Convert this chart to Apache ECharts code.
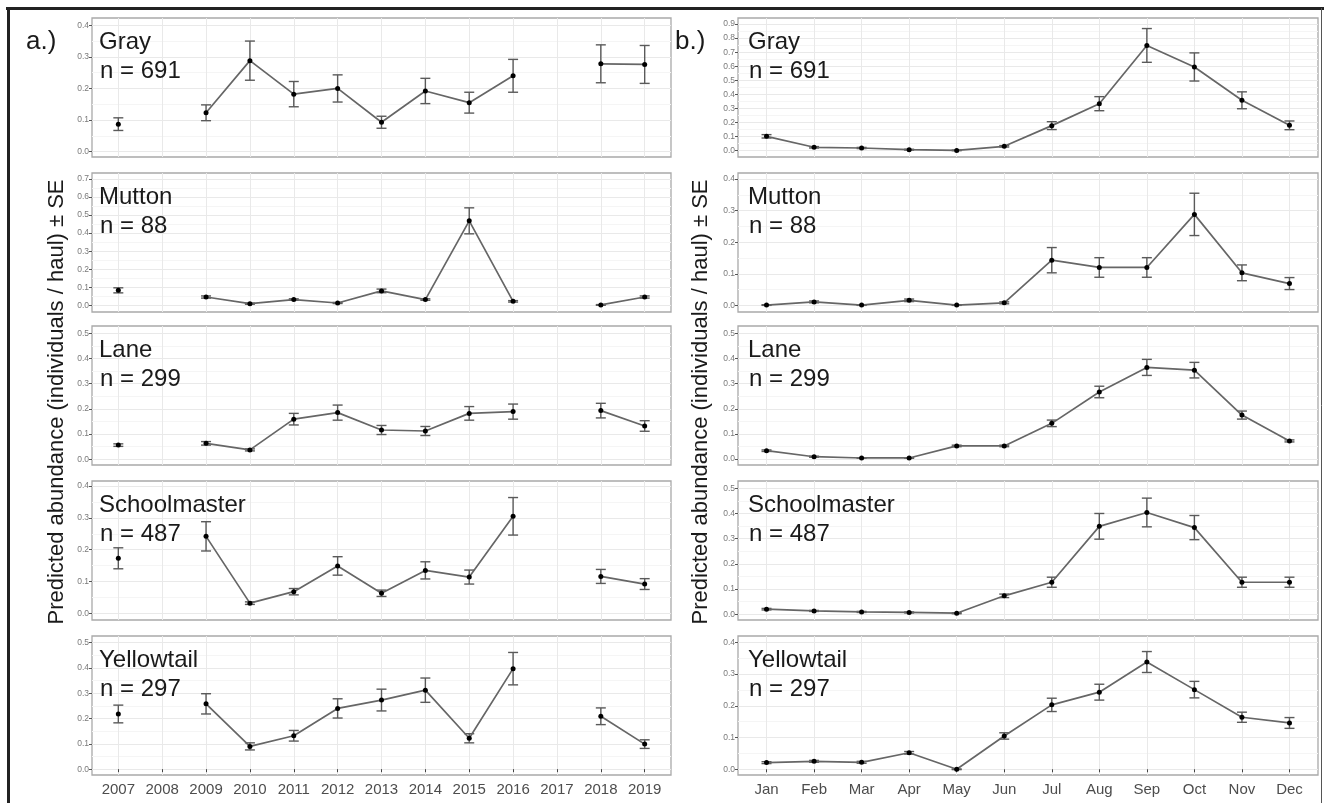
<!DOCTYPE html>
<html>
<head>
<meta charset="utf-8">
<script src="https://cdn.jsdelivr.net/npm/echarts@6/dist/echarts.min.js"></script>
<style>
html,body{margin:0;padding:0;background:#fff;}
#chart{width:1324px;height:803px;}
</style>
</head>
<body>
<div id="chart"></div>
<script>
// ---------------- DATA ----------------
const years = [2007, 2008, 2009, 2010, 2011, 2012, 2013, 2014, 2015, 2016, 2017, 2018, 2019];
const months = [1, 2, 3, 4, 5, 6, 7, 8, 9, 10, 11, 12];
const monthNames = ['Jan', 'Feb', 'Mar', 'Apr', 'May', 'Jun', 'Jul', 'Aug', 'Sep', 'Oct', 'Nov', 'Dec'];
const species = ['Gray', 'Mutton', 'Lane', 'Schoolmaster', 'Yellowtail'];
const counts = [691, 88, 299, 487, 297];
const panelLetters = ['a.)', 'b.)'];
const yTitle = 'Predicted abundance (individuals / haul) \u00b1 SE';

// yearly (null = no data)
const grayYearMean   = [0.087, null, 0.123, 0.288, 0.182, 0.200, 0.093, 0.192, 0.155, 0.240, null, 0.278, 0.276];
const grayYearSE     = [0.020, null, 0.025, 0.062, 0.040, 0.043, 0.019, 0.040, 0.033, 0.052, null, 0.060, 0.060];
const muttonYearMean = [0.083, null, 0.046, 0.009, 0.032, 0.013, 0.080, 0.032, 0.468, 0.022, null, 0.002, 0.046];
const muttonYearSE   = [0.014, null, 0.006, 0.003, 0.004, 0.003, 0.010, 0.004, 0.072, 0.004, null, 0.002, 0.006];
const laneYearMean   = [0.056, null, 0.063, 0.037, 0.159, 0.185, 0.116, 0.112, 0.182, 0.189, null, 0.193, 0.132];
const laneYearSE     = [0.005, null, 0.007, 0.004, 0.023, 0.030, 0.018, 0.018, 0.027, 0.030, null, 0.029, 0.021];
const schoolYearMean = [0.173, null, 0.242, 0.032, 0.068, 0.149, 0.063, 0.135, 0.114, 0.305, null, 0.116, 0.092];
const schoolYearSE   = [0.033, null, 0.046, 0.004, 0.010, 0.029, 0.010, 0.027, 0.022, 0.059, null, 0.022, 0.017];
const yellowYearMean = [0.218, null, 0.258, 0.090, 0.132, 0.240, 0.273, 0.312, 0.122, 0.397, null, 0.209, 0.099];
const yellowYearSE   = [0.035, null, 0.040, 0.014, 0.021, 0.038, 0.043, 0.048, 0.018, 0.064, null, 0.033, 0.017];

// monthly
const grayMonthMean   = [0.102, 0.024, 0.019, 0.007, 0.002, 0.031, 0.178, 0.334, 0.748, 0.595, 0.358, 0.180];
const grayMonthSE     = [0.012, 0.005, 0.004, 0.003, 0.002, 0.005, 0.028, 0.050, 0.120, 0.100, 0.060, 0.031];
const muttonMonthMean = [0.001, 0.011, 0.001, 0.016, 0.001, 0.008, 0.143, 0.120, 0.120, 0.288, 0.103, 0.069];
const muttonMonthSE   = [0.001, 0.003, 0.001, 0.004, 0.001, 0.003, 0.040, 0.031, 0.031, 0.067, 0.025, 0.019];
const laneMonthMean   = [0.033, 0.009, 0.004, 0.004, 0.052, 0.052, 0.142, 0.267, 0.365, 0.354, 0.175, 0.072];
const laneMonthSE     = [0.003, 0.002, 0.001, 0.001, 0.003, 0.003, 0.013, 0.023, 0.032, 0.031, 0.016, 0.004];
const schoolMonthMean = [0.020, 0.013, 0.009, 0.007, 0.004, 0.073, 0.127, 0.349, 0.404, 0.344, 0.127, 0.127];
const schoolMonthSE   = [0.003, 0.002, 0.002, 0.002, 0.002, 0.007, 0.020, 0.051, 0.057, 0.048, 0.020, 0.020];
const yellowMonthMean = [0.021, 0.025, 0.022, 0.052, 0.000, 0.105, 0.203, 0.243, 0.338, 0.251, 0.164, 0.146];
const yellowMonthSE   = [0.003, 0.003, 0.003, 0.004, 0.001, 0.010, 0.021, 0.025, 0.033, 0.026, 0.016, 0.017];

// tick label tops per panel (ticks every 0.1 from 0)
const leftTickMax  = [0.4, 0.7, 0.5, 0.4, 0.5];
const rightTickMax = [0.9, 0.4, 0.5, 0.5, 0.4];

// ---------------- LAYOUT ----------------
const leftRange  = [[-0.017, 0.423], [-0.037, 0.733], [-0.023, 0.529], [-0.021, 0.416], [-0.023, 0.526]];
const rightRange = [[-0.045, 0.943], [-0.021, 0.419], [-0.024, 0.530], [-0.023, 0.529], [-0.018, 0.420]];
const panelTops = [18, 173, 326, 481, 636];
const panelH = 139;
const colX = [{ left: 92, width: 579 }, { left: 738, width: 580 }];

const yearData = [
  [grayYearMean, grayYearSE], [muttonYearMean, muttonYearSE], [laneYearMean, laneYearSE],
  [schoolYearMean, schoolYearSE], [yellowYearMean, yellowYearSE]
];
const monthData = [
  [grayMonthMean, grayMonthSE], [muttonMonthMean, muttonMonthSE], [laneMonthMean, laneMonthSE],
  [schoolMonthMean, schoolMonthSE], [yellowMonthMean, yellowMonthSE]
];

function steps(maxV, step, start) {
  const out = [];
  for (let v = start; v <= maxV + 1e-9; v += step) out.push(Math.round(v * 1000) / 1000);
  return out;
}

const grids = [], xAxes = [], yAxes = [], series = [], graphics = [];
const FONT = '"Liberation Sans", Arial, sans-serif';

function addPanel(col, row) {
  const gi = grids.length;
  const isLeft = col === 0;
  const xs = isLeft ? years : months;
  const data = isLeft ? yearData[row] : monthData[row];
  const range = isLeft ? leftRange[row] : rightRange[row];
  const tmax = isLeft ? leftTickMax[row] : rightTickMax[row];
  const bottom = row === 4;

  grids.push({
    left: colX[col].left, top: panelTops[row], width: colX[col].width, height: panelH,
    show: true, borderColor: '#a9a9a9', borderWidth: 1.3, backgroundColor: '#fff'
  });
  xAxes.push({
    type: 'value', gridIndex: gi,
    min: isLeft ? 2006.4 : 0.4, max: isLeft ? 2019.6 : 12.6,
    axisLine: { show: false },
    axisTick: { show: bottom, customValues: xs, length: 3, lineStyle: { color: '#444', width: 1 } },
    axisLabel: {
      show: bottom, customValues: xs, margin: 7, fontSize: 15, color: '#4d4d4d', fontFamily: FONT,
      formatter: v => isLeft ? String(v) : monthNames[v - 1]
    },
    splitLine: { show: true, lineStyle: { color: '#e9e9e9', width: 1 } }
  });
  const major = steps(tmax, 0.1, 0);
  const minor = steps(range[1], 0.1, 0.05);
  yAxes.push({
    type: 'value', gridIndex: gi, position: 'left', min: range[0], max: range[1],
    axisLine: { show: false },
    axisTick: { show: true, customValues: major, length: 3, lineStyle: { color: '#555', width: 1 } },
    axisLabel: { customValues: major, fontSize: 8.5, color: '#7a7a7a', margin: 3, fontFamily: FONT,
      formatter: v => v.toFixed(1) },
    splitLine: { show: true, lineStyle: { color: '#e9e9e9', width: 1 } }
  });
  yAxes.push({
    type: 'value', gridIndex: gi, position: 'left', min: range[0], max: range[1],
    axisLine: { show: false },
    axisTick: { show: false, customValues: minor },
    axisLabel: { show: false, customValues: minor },
    splitLine: { show: true, lineStyle: { color: '#f5f5f5', width: 1 } }
  });
  const yi = yAxes.length - 2;
  const mean = data[0], se = data[1];
  series.push({
    type: 'custom', xAxisIndex: gi, yAxisIndex: yi, z: 2, silent: true,
    encode: { x: 0, y: 1 },
    data: xs.map((x, i) => [x, mean[i], se[i]]).filter(d => d[1] !== null),
    renderItem: function (params, api) {
      const x = api.value(0), m = api.value(1), s = api.value(2);
      const hi = api.coord([x, m + s]);
      const lo = api.coord([x, m - s]);
      const hw = 5;
      const st = { stroke: '#5a5a5a', lineWidth: 1.4 };
      return {
        type: 'group', children: [
          { type: 'line', shape: { x1: hi[0], y1: hi[1], x2: lo[0], y2: lo[1] }, style: st },
          { type: 'line', shape: { x1: hi[0] - hw, y1: hi[1], x2: hi[0] + hw, y2: hi[1] }, style: st },
          { type: 'line', shape: { x1: lo[0] - hw, y1: lo[1], x2: lo[0] + hw, y2: lo[1] }, style: st }
        ]
      };
    }
  });
  series.push({
    type: 'line', xAxisIndex: gi, yAxisIndex: yi, z: 3, silent: true,
    data: xs.map((x, i) => [x, mean[i] === null ? '-' : mean[i]]),
    connectNulls: false, showSymbol: true, symbol: 'circle', symbolSize: 5,
    itemStyle: { color: '#000' },
    lineStyle: { color: '#666', width: 1.7 },
    animation: false
  });

  // panel labels
  const tx = colX[col].left + (isLeft ? 7 : 10);
  graphics.push({ type: 'text', z: 100, x: tx, y: panelTops[row] + 24,
    style: { text: species[row], font: '24px ' + FONT, fill: '#1a1a1a', textVerticalAlign: 'middle' } });
  graphics.push({ type: 'text', z: 100, x: tx + 1, y: panelTops[row] + 53,
    style: { text: 'n = ' + counts[row], font: '24px ' + FONT, fill: '#1a1a1a', textVerticalAlign: 'middle' } });
}

for (let r = 0; r < 5; r++) { addPanel(0, r); addPanel(1, r); }

// figure letters and y titles
graphics.push({ type: 'text', z: 100, x: 26, y: 42, style: { text: panelLetters[0], font: '26px ' + FONT, fill: '#1a1a1a', textVerticalAlign: 'middle' } });
graphics.push({ type: 'text', z: 100, x: 675, y: 42, style: { text: panelLetters[1], font: '26px ' + FONT, fill: '#1a1a1a', textVerticalAlign: 'middle' } });
graphics.push({ type: 'text', z: 100, x: 57, y: 402, rotation: Math.PI / 2,
  style: { text: yTitle, font: '22px ' + FONT, fill: '#1a1a1a', textAlign: 'center', textVerticalAlign: 'middle' } });
graphics.push({ type: 'text', z: 100, x: 701, y: 402, rotation: Math.PI / 2,
  style: { text: yTitle, font: '22px ' + FONT, fill: '#1a1a1a', textAlign: 'center', textVerticalAlign: 'middle' } });
// outer frame
graphics.push({ type: 'line', z: 100, shape: { x1: 6, y1: 8.5, x2: 1324, y2: 8.5 }, style: { stroke: '#222', lineWidth: 3 } });
graphics.push({ type: 'line', z: 100, shape: { x1: 8.5, y1: 7, x2: 8.5, y2: 803 }, style: { stroke: '#222', lineWidth: 3 } });
graphics.push({ type: 'line', z: 100, shape: { x1: 1321.5, y1: 8, x2: 1321.5, y2: 803 }, style: { stroke: '#555', lineWidth: 1 } });

const chart = echarts.init(document.getElementById('chart'), null, { renderer: 'canvas' });
chart.setOption({
  animation: false,
  backgroundColor: '#fff',
  grid: grids,
  xAxis: xAxes,
  yAxis: yAxes,
  series: series,
  graphic: graphics
});
</script>
</body>
</html>
